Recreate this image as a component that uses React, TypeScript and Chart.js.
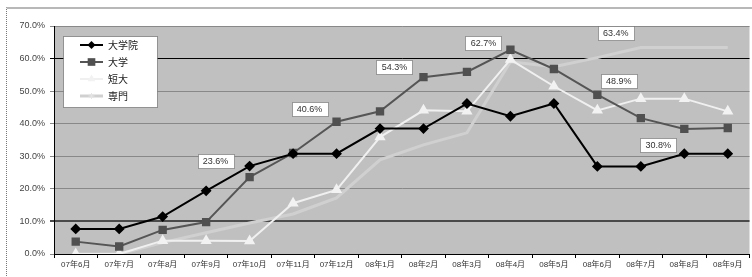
import React, { useEffect, useRef } from "react";
import { Chart, registerables } from "chart.js";

Chart.register(...registerables);

const categories = [
  "07年6月", "07年7月", "07年8月", "07年9月", "07年10月", "07年11月", "07年12月",
  "08年1月", "08年2月", "08年3月", "08年4月", "08年5月", "08年6月", "08年7月", "08年8月", "08年9月",
];
const seriesNames = ["大学院", "大学", "短大", "専門"];
const daigakuin = [7.7, 7.7, 11.5, 19.4, 27.0, 30.8, 30.8, 38.5, 38.5, 46.2, 42.3, 46.2, 26.9, 26.9, 30.8, 30.8];
const daigaku = [3.8, 2.3, 7.4, 9.8, 23.6, 31.0, 40.6, 43.8, 54.3, 55.9, 62.7, 56.8, 48.9, 41.7, 38.4, 38.7];
const tandai = [0, 0, 4.1, 4.1, 4.0, 15.6, 19.7, 35.9, 44.1, 43.8, 59.7, 51.5, 44.1, 47.7, 47.7, 43.8];
const senmon = [0, 0, 3.5, 6.5, 9.5, 12.3, 17.2, 28.9, 33.5, 37.2, 59.0, 57.5, 60.3, 63.4, 63.4, 63.4];
const yTicks = [0, 10, 20, 30, 40, 50, 60, 70];
// data labels: [datasetIndex, pointIndex, text]
const labelPoints: [number, number, string][] = [
  [1, 4, "23.6%"],
  [1, 6, "40.6%"],
  [1, 8, "54.3%"],
  [1, 10, "62.7%"],
  [3, 13, "63.4%"],
  [2, 13, "48.9%"],
  [0, 14, "30.8%"],
];
const labelOffsets: [number, number][] = [
  [-34, -16], [-27, -13], [-29, -10], [-27, -7], [-25, -14], [-22, -18], [-26, -9],
];

const FONT = "'Liberation Sans', 'Noto Sans CJK JP', sans-serif";

function drawMarker(ctx: CanvasRenderingContext2D, style: string, r: number, x: number, y: number, color: string) {
  ctx.save();
  ctx.fillStyle = color;
  ctx.strokeStyle = color;
  ctx.lineWidth = 1;
  ctx.beginPath();
  if (style === "rectRot") {
    ctx.moveTo(x, y - r);
    ctx.lineTo(x + r, y);
    ctx.lineTo(x, y + r);
    ctx.lineTo(x - r, y);
    ctx.closePath();
    ctx.fill();
  } else if (style === "rect") {
    const s = r * 0.85;
    ctx.rect(x - s, y - s, 2 * s, 2 * s);
    ctx.fill();
  } else if (style === "triangle") {
    ctx.moveTo(x, y - r);
    ctx.lineTo(x + r * 0.87, y + r * 0.5);
    ctx.lineTo(x - r * 0.87, y + r * 0.5);
    ctx.closePath();
    ctx.fill();
  } else {
    for (let k = 0; k < 4; k++) {
      const a = (k * Math.PI) / 4;
      ctx.moveTo(x - Math.cos(a) * r, y - Math.sin(a) * r);
      ctx.lineTo(x + Math.cos(a) * r, y + Math.sin(a) * r);
    }
    ctx.stroke();
  }
  ctx.restore();
}

const plotBg = {
  id: "plotBg",
  beforeDraw(chart: any) {
    const { ctx, chartArea: a } = chart;
    ctx.save();
    ctx.fillStyle = "#c0c0c0";
    ctx.fillRect(a.left, a.top, a.right - a.left, a.bottom - a.top);
    ctx.restore();
  },
};

const dataLabels = {
  id: "dataLabels",
  afterDatasetsDraw(chart: any) {
    const ctx = chart.ctx;
    ctx.save();
    ctx.font = `9px ${FONT}`;
    labelPoints.forEach(([ds, i, text], k) => {
      const el = chart.getDatasetMeta(ds).data[i];
      if (!el) return;
      const [dx, dy] = labelOffsets[k];
      const cx = el.x + dx;
      const cy = el.y + dy;
      const w = Math.round(ctx.measureText(text).width + 10);
      const h = 14;
      const x = Math.round(cx - w / 2) + 0.5;
      const y = Math.round(cy - h / 2) + 0.5;
      ctx.fillStyle = "#ffffff";
      ctx.fillRect(x, y, w, h);
      ctx.setLineDash([1, 1]);
      ctx.strokeStyle = "#555";
      ctx.lineWidth = 1;
      ctx.strokeRect(x, y, w, h);
      ctx.setLineDash([]);
      ctx.fillStyle = "#333";
      ctx.textAlign = "center";
      ctx.textBaseline = "middle";
      ctx.fillText(text, cx, cy + 0.5);
    });
    ctx.restore();
  },
};

const customLegend = {
  id: "customLegend",
  afterDraw(chart: any) {
    const { ctx, chartArea: a } = chart;
    const x0 = a.left + 9;
    const y0 = a.top + 10;
    const w = 94;
    const h = 71;
    ctx.save();
    ctx.fillStyle = "#fff";
    ctx.fillRect(x0 + 0.5, y0 + 0.5, w, h);
    ctx.setLineDash([1, 1]);
    ctx.strokeStyle = "#444";
    ctx.lineWidth = 1;
    ctx.strokeRect(x0 + 0.5, y0 + 0.5, w, h);
    ctx.setLineDash([]);
    chart.data.datasets.forEach((ds: any, i: number) => {
      const y = y0 + 9 + i * 17;
      const lx1 = x0 + 17;
      const lx2 = x0 + 40;
      ctx.strokeStyle = ds.borderColor;
      ctx.lineWidth = ds.borderWidth;
      ctx.beginPath();
      ctx.moveTo(lx1, y);
      ctx.lineTo(lx2, y);
      ctx.stroke();
      drawMarker(ctx, ds.pointStyle, ds.legendRadius, (lx1 + lx2) / 2, y, ds.legendMarkColor);
      ctx.fillStyle = "#222";
      ctx.font = `10px ${FONT}`;
      ctx.textAlign = "left";
      ctx.textBaseline = "middle";
      ctx.fillText(ds.label, x0 + 45, y + 1);
    });
    ctx.restore();
  },
};

export default function App() {
  const ref = useRef<HTMLCanvasElement>(null);
  useEffect(() => {
    if (!ref.current) return;
    const mk = (label: string, data: number[], color: string, pointStyle: string, r: number, bw: number, pointColor: string, legendRadius: number, legendMarkColor: string) => ({
      label,
      data,
      borderColor: color,
      backgroundColor: pointColor,
      pointBackgroundColor: pointColor,
      pointBorderColor: pointColor,
      pointStyle,
      pointRadius: r,
      borderWidth: bw,
      tension: 0,
      legendRadius,
      legendMarkColor,
    });
    const chart = new Chart(ref.current, {
      type: "line",
      data: {
        labels: categories,
        datasets: [
          mk(seriesNames[0], daigakuin, "#000000", "rectRot", 4, 2, "#000000", 4, "#000000"),
          mk(seriesNames[1], daigaku, "#555555", "rect", 4.5, 2, "#505050", 4.5, "#505050"),
          mk(seriesNames[2], tandai, "#f0f0f0", "triangle", 4.5, 2, "#f2f2f2", 4.5, "#f2f2f2"),
          mk(seriesNames[3], senmon, "#d0d0d0", "star", 0, 3, "#d0d0d0", 3, "#e4e4e4"),
        ],
      },
      options: {
        responsive: false,
        animation: false,
        layout: { padding: { top: 26, left: 0, right: 2, bottom: 0 } },
        plugins: { legend: { display: false }, tooltip: { enabled: false } },
        scales: {
          x: {
            offset: true,
            grid: { offset: true, drawOnChartArea: false, color: "#000", tickLength: 4 },
            border: { color: "#000", width: 1 },
            ticks: { color: "#333", font: { size: 8, family: FONT }, maxRotation: 0, autoSkip: false, padding: 2 },
            afterFit: (s: any) => { s.height = 23; },
          },
          y: {
            min: 0,
            max: 70,
            afterBuildTicks: (s: any) => { s.ticks = yTicks.map((v) => ({ value: v })); },
            grid: {
              color: (c: any) => (c.tick && c.tick.value === 60 ? "#000" : c.tick && c.tick.value === 10 ? "#4a4a4a" : "#888"),
              lineWidth: (c: any) => (c.tick && c.tick.value === 10 ? 2 : 1),
              tickLength: 4,
            },
            border: { color: "#000", width: 1 },
            ticks: {
              color: "#444",
              font: { size: 9, family: FONT },
              padding: 5,
              callback: (v: any) => Number(v).toFixed(1) + "%",
            },
            afterFit: (s: any) => { s.width = 54; },
          },
        },
      },
      plugins: [plotBg, dataLabels, customLegend],
    } as any);
    return () => chart.destroy();
  }, []);
  return (
    <div style={{ position: "fixed", left: 0, top: 0, width: 752, height: 277, overflow: "hidden", background: "#fff" }}>
      <div style={{ position: "absolute", left: 6, top: 7, width: 800, height: 320, border: "1px dotted #777", borderTop: "2px solid #b8b8b8" }} />
      <canvas ref={ref} width={756} height={277} style={{ position: "absolute", left: 0, top: 0 }} />
    </div>
  );
}
